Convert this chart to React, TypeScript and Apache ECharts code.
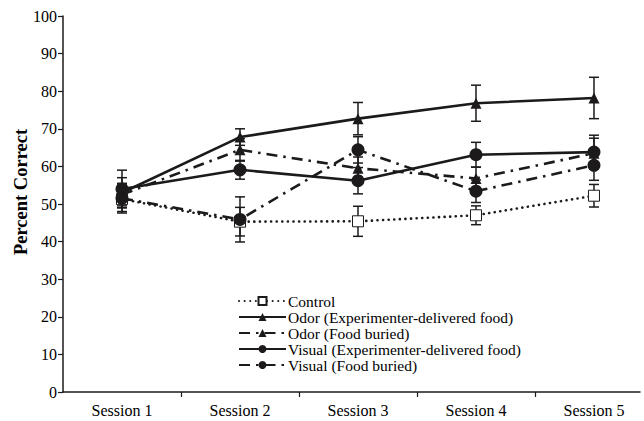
import React, { useEffect, useRef } from "react";
import * as echarts from "echarts";

const sessions = ["Session 1", "Session 2", "Session 3", "Session 4", "Session 5"];
const sessionPos = [1, 2, 3, 4, 5];

const control = [51.3, 45.3, 45.4, 47.0, 52.2];
const controlErr = [3.7, 3.8, 4.0, 2.5, 3.0];
const odorExp = [53.0, 67.8, 72.7, 76.8, 78.2];
const odorExpErr = [4.0, 2.2, 4.3, 4.8, 5.5];
const odorFood = [52.5, 64.4, 59.5, 56.8, 63.5];
const odorFoodErr = [3.0, 3.0, 3.0, 3.0, 4.0];
const visualExp = [54.0, 59.1, 56.2, 63.1, 63.8];
const visualExpErr = [5.0, 2.5, 3.5, 3.3, 4.5];
const visualFood = [51.5, 45.9, 64.4, 53.4, 60.3];
const visualFoodErr = [3.5, 6.0, 3.5, 3.0, 4.0];

const yTicks = [0, 10, 20, 30, 40, 50, 60, 70, 80, 90, 100];

const FONT = "'Liberation Serif', 'Times New Roman', serif";
const INK = "#1c1a1b";

export default function App() {
  const ref = useRef<HTMLDivElement>(null);

  useEffect(() => {
    if (!ref.current) return;
    const chart = echarts.init(ref.current, null, { renderer: "svg" });

    const pts = (vals: number[]) => vals.map((v, i) => [sessionPos[i], v]);
    const errs: number[][] = [];
    const addErr = (vals: number[], e: number[]) =>
      vals.forEach((v, i) => errs.push([sessionPos[i], v - e[i], v + e[i]]));
    addErr(control, controlErr);
    addErr(odorExp, odorExpErr);
    addErr(odorFood, odorFoodErr);
    addErr(visualExp, visualExpErr);
    addErr(visualFood, visualFoodErr);

    const dashDot = [11, 6, 2.5, 6];

    chart.setOption({
      animation: false,
      backgroundColor: "#ffffff",
      textStyle: { fontFamily: FONT, color: "#000" },
      grid: { left: 63, right: 4, top: 16, bottom: 29, containLabel: false },
      graphic: [
        {
          type: "text",
          x: 21,
          y: 192,
          rotation: Math.PI / 2,
          style: {
            text: "Percent Correct",
            fontFamily: FONT,
            fontSize: 18.5,
            fontWeight: "bold",
            fill: "#000",
            align: "center",
            verticalAlign: "middle",
          },
        },
      ],
      legend: {
        orient: "vertical",
        left: 238,
        top: 293,
        padding: 0,
        itemWidth: 47,
        itemHeight: 10,
        itemGap: 0,
        textStyle: {
          fontFamily: FONT,
          fontSize: 15.5,
          lineHeight: 15,
          height: 15,
          color: "#000",
          padding: [0, 0, 0, -3],
        },
        data: [
          "Control",
          "Odor (Experimenter-delivered food)",
          "Odor (Food buried)",
          "Visual (Experimenter-delivered food)",
          "Visual (Food buried)",
        ],
      },
      xAxis: {
        type: "value",
        min: 0.5,
        max: 5.39,
        splitLine: { show: false },
        axisLine: { show: true, lineStyle: { color: INK, width: 1.5 } },
        axisTick: {
          show: true,
          inside: false,
          length: 5,
          customValues: [1.5, 2.5, 3.5, 4.5],
          lineStyle: { color: INK, width: 1.2 },
        },
        axisLabel: {
          customValues: sessionPos,
          formatter: (v: number) => sessions[Math.round(v) - 1] ?? "",
          fontFamily: FONT,
          fontSize: 16,
          color: "#000",
          margin: 10,
        },
      },
      yAxis: {
        type: "value",
        min: 0,
        max: 100,
        interval: 10,
        splitLine: { show: false },
        axisLine: { show: true, lineStyle: { color: INK, width: 1.5 } },
        axisTick: { show: true, inside: false, length: 5, lineStyle: { color: INK, width: 1.2 } },
        axisLabel: {
          fontFamily: FONT,
          fontSize: 16,
          color: "#000",
          margin: 6,
          formatter: (v: number) => (yTicks.includes(v) ? String(v) : ""),
        },
      },
      series: [
        {
          type: "custom",
          name: "errors",
          z: 1,
          silent: true,
          encode: { x: 0, y: [1, 2] },
          data: errs,
          renderItem: (params: any, api: any) => {
            const x = api.value(0);
            const top = api.coord([x, api.value(2)]);
            const bot = api.coord([x, api.value(1)]);
            const w = 5;
            const st = { stroke: INK, lineWidth: 1.5 };
            return {
              type: "group",
              children: [
                { type: "line", shape: { x1: top[0], y1: top[1], x2: bot[0], y2: bot[1] }, style: st },
                { type: "line", shape: { x1: top[0] - w, y1: top[1], x2: top[0] + w, y2: top[1] }, style: st },
                { type: "line", shape: { x1: bot[0] - w, y1: bot[1], x2: bot[0] + w, y2: bot[1] }, style: st },
              ],
            };
          },
        },
        {
          type: "line",
          name: "Control",
          z: 3,
          data: pts(control),
          symbol: "rect",
          symbolSize: 11,
          itemStyle: { color: "#ffffff", borderColor: INK, borderWidth: 1 },
          lineStyle: { color: INK, width: 2.6, type: [0.1, 5.5], cap: "round" },
        },
        {
          type: "line",
          name: "Odor (Experimenter-delivered food)",
          z: 3,
          data: pts(odorExp),
          symbol: "triangle",
          symbolSize: 11,
          itemStyle: { color: INK },
          lineStyle: { color: INK, width: 2.6, type: "solid" },
        },
        {
          type: "line",
          name: "Odor (Food buried)",
          z: 3,
          data: pts(odorFood),
          symbol: "triangle",
          symbolSize: 11,
          itemStyle: { color: INK },
          lineStyle: { color: INK, width: 2.6, type: dashDot },
        },
        {
          type: "line",
          name: "Visual (Experimenter-delivered food)",
          z: 3,
          data: pts(visualExp),
          symbol: "circle",
          symbolSize: 13,
          itemStyle: { color: INK },
          lineStyle: { color: INK, width: 2.6, type: "solid" },
        },
        {
          type: "line",
          name: "Visual (Food buried)",
          z: 3,
          data: pts(visualFood),
          symbol: "circle",
          symbolSize: 13,
          itemStyle: { color: INK },
          lineStyle: { color: INK, width: 2.6, type: dashDot },
        },
      ],
    });

    return () => chart.dispose();
  }, []);

  return (
    <div
      ref={ref}
      style={{ position: "fixed", left: 0, top: 0, width: 644, height: 421, background: "#fff" }}
    />
  );
}
